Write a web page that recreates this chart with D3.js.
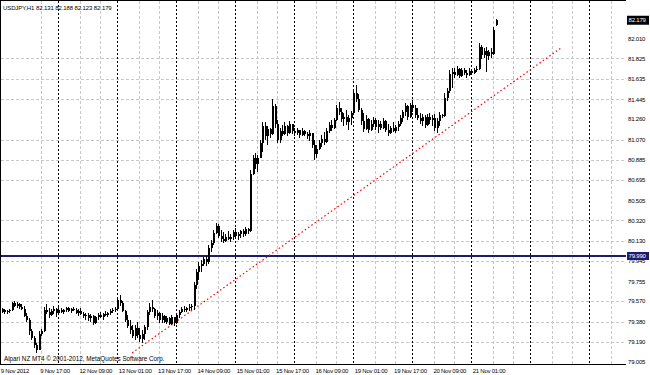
<!DOCTYPE html>
<html>
<head>
<meta charset="utf-8">
<script src="https://cdnjs.cloudflare.com/ajax/libs/d3/7.8.5/d3.min.js"></script>
<style>
html, body { margin: 0; padding: 0; background: #fff; }
svg { display: block; }
text { font-family: "Liberation Sans", Arial, sans-serif; fill: #000; }
</style>
</head>
<body>
<svg id="chart" width="650" height="375"></svg>
<script>
// USDJPY H1, one entry per hourly bar, bar 0 = 9 Nov 01:00
var titleText = "USDJPY,H1  82.131 82.188 82.123 82.179";
var brokerText = "Alpari NZ MT4  \u00a9 2001-2012, MetaQuotes Software Corp.";

var openP = [
  79.47, 79.49, 79.47, 79.48, 79.49, 79.55, 79.53, 79.54, 79.52, 79.50,
  79.43, 79.40, 79.29, 79.23, 79.16, 79.12, 79.27, 79.29, 79.49, 79.47,
  79.44, 79.48, 79.50, 79.46, 79.49, 79.47, 79.49, 79.51, 79.48, 79.50,
  79.49, 79.46, 79.48, 79.45, 79.43, 79.44, 79.41, 79.43, 79.37, 79.42,
  79.44, 79.42, 79.45, 79.44, 79.46, 79.48, 79.49, 79.50, 79.58, 79.55,
  79.48, 79.40, 79.34, 79.30, 79.25, 79.32, 79.26, 79.22, 79.27, 79.33,
  79.47, 79.52, 79.50, 79.43, 79.46, 79.40, 79.43, 79.38, 79.41, 79.36,
  79.42, 79.37, 79.44, 79.47, 79.50, 79.49, 79.51, 79.52, 79.53, 79.72,
  79.84, 79.90, 79.92, 79.96, 79.93, 80.06, 80.11, 80.20, 80.27, 80.18,
  80.15, 80.13, 80.17, 80.15, 80.17, 80.21, 80.18, 80.19, 80.22, 80.19,
  80.24, 80.22, 80.75, 80.90, 80.84, 80.90, 81.04, 81.20, 81.10, 81.17,
  81.12, 81.38, 81.22, 81.07, 81.15, 81.12, 81.20, 81.13, 81.22, 81.15,
  81.13, 81.16, 81.11, 81.15, 81.12, 81.10, 81.13, 81.02, 80.94, 80.98,
  81.04, 81.08, 81.05, 81.15, 81.21, 81.18, 81.25, 81.36, 81.33, 81.26,
  81.28, 81.23, 81.27, 81.32, 81.50, 81.45, 81.35, 81.24, 81.17, 81.26,
  81.16, 81.22, 81.25, 81.19, 81.22, 81.18, 81.24, 81.16, 81.13, 81.18,
  81.15, 81.19, 81.22, 81.27, 81.33, 81.38, 81.28, 81.39, 81.36, 81.30,
  81.27, 81.24, 81.28, 81.21, 81.28, 81.25, 81.27, 81.18, 81.24, 81.30,
  81.29, 81.46, 81.52, 81.68, 81.70, 81.67, 81.73, 81.66, 81.72, 81.69,
  81.67, 81.71, 81.69, 81.72, 81.73, 81.93, 81.86, 81.89, 81.85, 81.88,
  81.87, 82.131
];
var highP = [
  79.51, 79.50, 79.49, 79.50, 79.56, 79.57, 79.56, 79.55, 79.54, 79.53,
  79.46, 79.41, 79.31, 79.25, 79.18, 79.29, 79.31, 79.52, 79.54, 79.51,
  79.50, 79.53, 79.51, 79.52, 79.51, 79.50, 79.52, 79.52, 79.51, 79.52,
  79.51, 79.50, 79.51, 79.47, 79.46, 79.46, 79.45, 79.44, 79.43, 79.46,
  79.47, 79.46, 79.48, 79.47, 79.50, 79.51, 79.52, 79.60, 79.63, 79.57,
  79.49, 79.44, 79.40, 79.35, 79.35, 79.38, 79.32, 79.30, 79.35, 79.49,
  79.55, 79.58, 79.51, 79.49, 79.47, 79.46, 79.44, 79.43, 79.42, 79.44,
  79.42, 79.46, 79.49, 79.52, 79.53, 79.52, 79.54, 79.54, 79.75, 79.87,
  79.93, 79.95, 79.98, 79.99, 80.09, 80.14, 80.23, 80.30, 80.29, 80.23,
  80.21, 80.19, 80.22, 80.19, 80.23, 80.25, 80.21, 80.23, 80.24, 80.26,
  80.25, 80.79, 80.93, 80.95, 80.93, 81.07, 81.23, 81.23, 81.20, 81.18,
  81.45, 81.40, 81.25, 81.18, 81.21, 81.23, 81.21, 81.24, 81.22, 81.18,
  81.18, 81.16, 81.18, 81.16, 81.14, 81.16, 81.13, 81.07, 81.02, 81.07,
  81.11, 81.14, 81.18, 81.23, 81.25, 81.27, 81.39, 81.42, 81.36, 81.32,
  81.35, 81.30, 81.34, 81.53, 81.58, 81.49, 81.36, 81.32, 81.30, 81.27,
  81.25, 81.28, 81.27, 81.25, 81.24, 81.27, 81.25, 81.22, 81.20, 81.23,
  81.21, 81.24, 81.30, 81.35, 81.41, 81.39, 81.41, 81.44, 81.39, 81.36,
  81.32, 81.31, 81.30, 81.31, 81.32, 81.30, 81.31, 81.27, 81.33, 81.31,
  81.50, 81.55, 81.72, 81.74, 81.74, 81.75, 81.74, 81.74, 81.74, 81.72,
  81.74, 81.72, 81.74, 81.75, 81.97, 81.95, 81.92, 81.93, 81.90, 81.92,
  82.12, 82.188
];
var lowP = [
  79.46, 79.45, 79.45, 79.46, 79.48, 79.52, 79.51, 79.50, 79.49, 79.42,
  79.38, 79.26, 79.21, 79.14, 79.09, 79.12, 79.25, 79.28, 79.45, 79.41,
  79.43, 79.45, 79.42, 79.46, 79.46, 79.45, 79.47, 79.47, 79.46, 79.48,
  79.45, 79.43, 79.44, 79.41, 79.40, 79.39, 79.38, 79.35, 79.36, 79.40,
  79.41, 79.40, 79.43, 79.42, 79.44, 79.46, 79.47, 79.49, 79.53, 79.47,
  79.38, 79.32, 79.27, 79.23, 79.21, 79.23, 79.19, 79.18, 79.21, 79.30,
  79.44, 79.47, 79.41, 79.40, 79.37, 79.37, 79.37, 79.36, 79.35, 79.35,
  79.34, 79.36, 79.41, 79.46, 79.47, 79.47, 79.48, 79.49, 79.49, 79.68,
  79.77, 79.84, 79.90, 79.90, 79.92, 80.03, 80.09, 80.19, 80.16, 80.12,
  80.11, 80.12, 80.14, 80.12, 80.14, 80.16, 80.14, 80.16, 80.17, 80.18,
  80.19, 80.21, 80.74, 80.80, 80.77, 80.90, 80.96, 81.07, 81.02, 81.09,
  81.11, 81.18, 81.04, 81.04, 81.10, 81.11, 81.10, 81.12, 81.12, 81.10,
  81.11, 81.09, 81.10, 81.10, 81.08, 81.06, 80.99, 80.88, 80.90, 80.97,
  81.00, 81.02, 81.04, 81.13, 81.15, 81.17, 81.24, 81.30, 81.23, 81.20,
  81.21, 81.16, 81.21, 81.31, 81.42, 81.33, 81.21, 81.14, 81.16, 81.13,
  81.15, 81.19, 81.16, 81.13, 81.16, 81.17, 81.14, 81.10, 81.12, 81.14,
  81.13, 81.15, 81.20, 81.23, 81.29, 81.25, 81.27, 81.33, 81.27, 81.25,
  81.22, 81.20, 81.18, 81.20, 81.22, 81.20, 81.15, 81.13, 81.20, 81.27,
  81.28, 81.43, 81.50, 81.55, 81.64, 81.66, 81.64, 81.65, 81.67, 81.64,
  81.66, 81.67, 81.68, 81.70, 81.72, 81.82, 81.83, 81.70, 81.81, 81.83,
  81.86, 82.123
];
var closeP = [
  79.50, 79.47, 79.48, 79.49, 79.55, 79.53, 79.54, 79.52, 79.50, 79.43,
  79.40, 79.29, 79.23, 79.16, 79.12, 79.27, 79.29, 79.49, 79.47, 79.44,
  79.48, 79.50, 79.46, 79.49, 79.47, 79.49, 79.51, 79.48, 79.50, 79.49,
  79.46, 79.48, 79.45, 79.43, 79.44, 79.41, 79.43, 79.37, 79.42, 79.44,
  79.42, 79.45, 79.44, 79.46, 79.48, 79.49, 79.50, 79.58, 79.55, 79.48,
  79.40, 79.34, 79.30, 79.25, 79.32, 79.26, 79.22, 79.27, 79.33, 79.47,
  79.52, 79.50, 79.43, 79.46, 79.40, 79.43, 79.38, 79.41, 79.36, 79.42,
  79.37, 79.44, 79.47, 79.50, 79.49, 79.51, 79.52, 79.53, 79.72, 79.84,
  79.90, 79.92, 79.96, 79.93, 80.06, 80.11, 80.20, 80.27, 80.18, 80.15,
  80.13, 80.17, 80.15, 80.17, 80.21, 80.18, 80.19, 80.22, 80.19, 80.24,
  80.22, 80.75, 80.90, 80.84, 80.90, 81.04, 81.20, 81.10, 81.17, 81.12,
  81.38, 81.22, 81.07, 81.15, 81.12, 81.20, 81.13, 81.22, 81.15, 81.13,
  81.16, 81.11, 81.15, 81.12, 81.10, 81.13, 81.02, 80.94, 80.98, 81.04,
  81.08, 81.05, 81.15, 81.21, 81.18, 81.25, 81.36, 81.33, 81.26, 81.28,
  81.23, 81.27, 81.32, 81.50, 81.45, 81.35, 81.24, 81.17, 81.26, 81.16,
  81.22, 81.25, 81.19, 81.22, 81.18, 81.24, 81.16, 81.13, 81.18, 81.15,
  81.19, 81.22, 81.27, 81.33, 81.38, 81.28, 81.39, 81.36, 81.30, 81.27,
  81.24, 81.28, 81.21, 81.28, 81.25, 81.27, 81.18, 81.24, 81.30, 81.29,
  81.46, 81.52, 81.68, 81.70, 81.67, 81.73, 81.66, 81.72, 81.69, 81.67,
  81.71, 81.69, 81.72, 81.73, 81.93, 81.86, 81.89, 81.85, 81.88, 81.87,
  82.09, 82.179
];

var priceTicks = [79.005, 79.190, 79.380, 79.570, 79.755, 79.945, 80.130, 80.320, 80.505,
  80.695, 80.885, 81.070, 81.260, 81.445, 81.635, 81.825, 82.010];
var priceGrid = [79.190, 79.380, 79.570, 79.945, 80.130, 80.320, 80.695, 80.885, 81.070,
  81.445, 81.635, 81.825];

var timeBars = [0, 16, 32, 48, 64, 80, 96, 112, 128, 144, 160, 176, 192];
var timeLabels = ["9 Nov 2012", "9 Nov 17:00", "12 Nov 09:00", "13 Nov 01:00", "13 Nov 17:00",
  "14 Nov 09:00", "15 Nov 01:00", "15 Nov 17:00", "16 Nov 09:00", "19 Nov 01:00",
  "19 Nov 17:00", "20 Nov 09:00", "21 Nov 01:00"];
var dayStartBars = [23, 47, 71, 95, 119, 143, 167, 191, 215, 239];
var gridBars = [16, 32, 40, 56, 64, 80, 88, 104, 112, 128, 136, 152, 160, 176, 184, 200, 208,
  224, 232, 248];

var trendBars = [53, 228];
var trendPrices = [79.09, 81.93];
var levelPrice = 79.990;
var levelLabel = "79.990";
var lastLabel = "82.179";

var svg = d3.select("#chart");
var plotRight = 626;
var plotBottom = 364;
var smallFont = "6px";

var x = d3.scaleLinear().domain([0, 250]).range([1.8, 1.8 + 2.458 * 250]);
var y = d3.scaleLinear().domain([79.005, 82.010]).range([362.1, 38.45]);

function px(v) { return Math.round(v) + 0.5; }

var grid = svg.append("g").attr("shape-rendering", "crispEdges");
grid.selectAll("line.hg").data(priceGrid).enter().append("line")
  .attr("x1", 1).attr("x2", plotRight)
  .attr("y1", function(d) { return px(y(d)); })
  .attr("y2", function(d) { return px(y(d)); })
  .attr("stroke", "#c8c8c8").attr("stroke-dasharray", "3,2");
grid.selectAll("line.vg").data(gridBars).enter().append("line")
  .attr("x1", function(d) { return px(x(d)); })
  .attr("x2", function(d) { return px(x(d)); })
  .attr("y1", 1).attr("y2", plotBottom)
  .attr("stroke", "#c8c8c8").attr("stroke-dasharray", "3,2");
grid.selectAll("line.sep").data(dayStartBars).enter().append("line")
  .attr("x1", function(d) { return px(x(d)); })
  .attr("x2", function(d) { return px(x(d)); })
  .attr("y1", 1).attr("y2", plotBottom)
  .attr("stroke", "#000").attr("stroke-dasharray", "2,2");

// horizontal level
svg.append("line")
  .attr("x1", 0).attr("x2", plotRight)
  .attr("y1", y(levelPrice)).attr("y2", y(levelPrice))
  .attr("stroke", "#1c1c6e").attr("stroke-width", 2)
  .attr("shape-rendering", "crispEdges");

// trend line
svg.append("line")
  .attr("x1", x(trendBars[0])).attr("y1", y(trendPrices[0]))
  .attr("x2", x(trendBars[1])).attr("y2", y(trendPrices[1]))
  .attr("stroke", "#ff0000").attr("stroke-width", 1.2)
  .attr("stroke-dasharray", "1.5,2.5");

// candles
var bars = d3.range(openP.length);
var candles = svg.append("g").attr("shape-rendering", "crispEdges");
candles.selectAll("line").data(bars).enter().append("line")
  .attr("x1", function(i) { return px(x(i)); })
  .attr("x2", function(i) { return px(x(i)); })
  .attr("y1", function(i) { return y(highP[i]); })
  .attr("y2", function(i) { return y(lowP[i]); })
  .attr("stroke", "#000");
candles.selectAll("rect").data(bars).enter().append("rect")
  .attr("x", function(i) { return Math.round(x(i)); })
  .attr("width", 2)
  .attr("y", function(i) { return y(Math.max(openP[i], closeP[i])); })
  .attr("height", function(i) { return Math.max(1, Math.abs(y(openP[i]) - y(closeP[i]))); })
  .attr("fill", "#000");

// frame
var frame = svg.append("g").attr("stroke", "#000").attr("shape-rendering", "crispEdges");
frame.append("line").attr("x1", 0).attr("x2", plotRight).attr("y1", 0.5).attr("y2", 0.5);
frame.append("line").attr("x1", 0.5).attr("x2", 0.5).attr("y1", 0).attr("y2", plotBottom + 0.5);
frame.append("line").attr("x1", 0).attr("x2", plotRight).attr("y1", plotBottom + 0.5).attr("y2", plotBottom + 0.5);

// price scale
svg.append("g").selectAll("text").data(priceTicks).enter().append("text")
  .attr("x", 628).attr("y", function(d) { return y(d) + 2.2; })
  .attr("font-size", smallFont).attr("letter-spacing", "-0.2px")
  .text(function(d) { return d3.format(".3f")(d); });

svg.append("rect").attr("x", 627).attr("y", y(82.179) - 4.5).attr("width", 22).attr("height", 9).attr("fill", "#000");
svg.append("text").attr("x", 628.5).attr("y", y(82.179) + 2.2).attr("font-size", smallFont)
  .attr("letter-spacing", "-0.2px").style("fill", "#fff").text(lastLabel);
svg.append("rect").attr("x", 627).attr("y", y(levelPrice) - 4).attr("width", 22).attr("height", 8).attr("fill", "#1c1c6e");
svg.append("text").attr("x", 628.5).attr("y", y(levelPrice) + 2.2).attr("font-size", smallFont)
  .attr("letter-spacing", "-0.2px").style("fill", "#fff").text(levelLabel);

// time scale
svg.append("g").selectAll("text").data(timeBars).enter().append("text")
  .attr("x", function(d) { return x(d) - 1; })
  .attr("y", 373)
  .attr("font-size", smallFont).attr("letter-spacing", "-0.25px")
  .text(function(d, i) { return timeLabels[i]; });

svg.append("text").attr("x", 3).attr("y", 9.5).attr("font-size", smallFont)
  .attr("letter-spacing", "-0.1px").text(titleText);
svg.append("text").attr("x", 4).attr("y", 361).attr("font-size", "6.3px").text(brokerText);
</script>
</body>
</html>
